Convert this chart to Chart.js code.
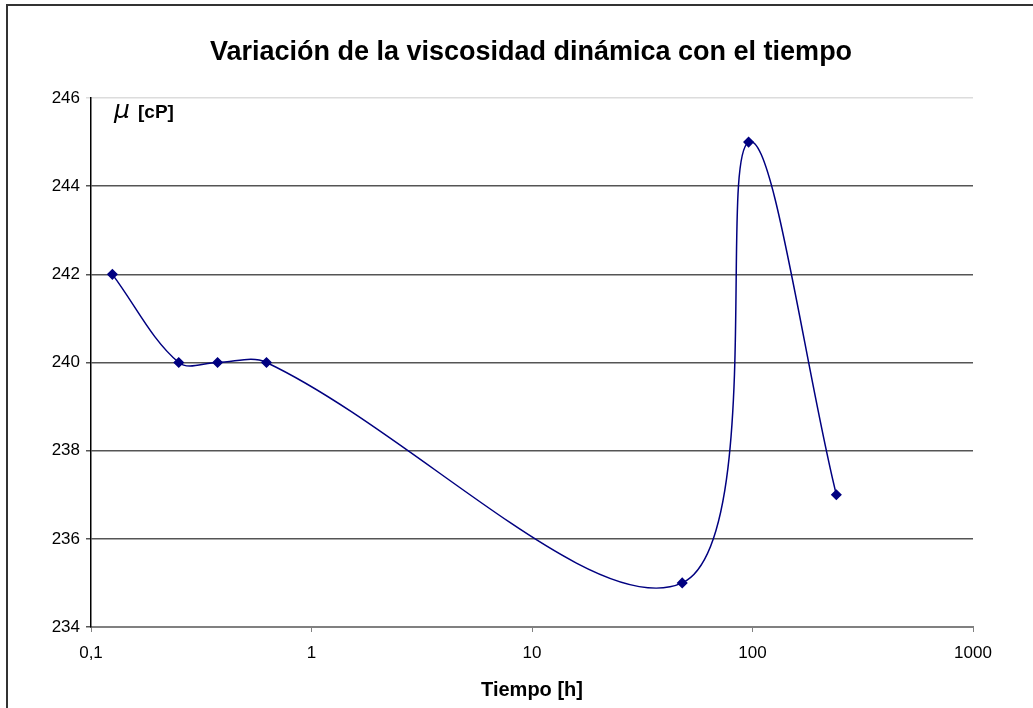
<!DOCTYPE html>
<html>
<head>
<meta charset="utf-8">
<script src="https://cdn.jsdelivr.net/npm/chart.js@4.4.0/dist/chart.umd.min.js"></script>
<style>
	html, body { margin: 0; padding: 0; background: #fff; }
	#wrap { width: 1033px; height: 708px; position: relative; }
</style>
</head>
<body>
<div id="wrap"><canvas id="chart"></canvas></div>
<script>
(function () {
	'use strict';

	// Tiempo [h] vs viscosidad [cP]
	var tiempo = [0.125, 0.25, 0.375, 0.625, 48, 96, 240];
	var viscosidad = [242, 240, 240, 240, 235, 245, 237];
	var xTicks = [0.1, 1, 10, 100, 1000];
	var yTicks = [234, 236, 238, 240, 242, 244, 246];

	var FONT = '"Liberation Sans", Arial, sans-serif';
	var NAVY = '#000080';

	var points = tiempo.map(function (t, i) { return { x: t, y: viscosidad[i] }; });

	// Frame, title and the mu label, drawn like the Excel chart.
	var decor = {
		id: 'decor',
		beforeDraw: function (chart) {
			var c = chart.ctx;
			c.save();
			c.fillStyle = '#fff';
			c.fillRect(0, 0, chart.width, chart.height);
			c.strokeStyle = '#333';
			c.lineWidth = 2;
			c.beginPath();
			c.moveTo(7, chart.height);
			c.lineTo(7, 5);
			c.lineTo(chart.width, 5);
			c.stroke();
			c.restore();
		},
		afterDraw: function (chart) {
			var c = chart.ctx;
			c.save();
			c.fillStyle = '#000';
			c.textAlign = 'center';
			c.textBaseline = 'alphabetic';
			c.font = 'bold 27px ' + FONT;
			c.fillText('Variación de la viscosidad dinámica con el tiempo', 531, 60);

			c.textAlign = 'left';
			c.font = 'italic 25px "DejaVu Sans", sans-serif';
			c.fillText('μ', 114, 118);
			c.font = 'bold 19px ' + FONT;
			c.fillText('[cP]', 138, 118);
			c.restore();
		}
	};

	new Chart(document.getElementById('chart'), {
		type: 'line',
		data: {
			datasets: [{
				data: points,
				borderColor: NAVY,
				backgroundColor: NAVY,
				borderWidth: 1.5,
				tension: 0.35,
				pointStyle: 'rectRot',
				pointRadius: 4.5,
				pointBackgroundColor: NAVY,
				pointBorderColor: NAVY,
				fill: false
			}]
		},
		options: {
			responsive: true,
			maintainAspectRatio: false,
			animation: false,
			layout: { padding: { top: 98, right: 60, bottom: 2, left: 0 } },
			plugins: {
				legend: { display: false },
				title: { display: false },
				tooltip: { enabled: false }
			},
			scales: {
				x: {
					type: 'logarithmic',
					min: 0.1,
					max: 1000,
					afterBuildTicks: function (scale) {
						scale.ticks = xTicks.map(function (v) { return { value: v }; });
					},
					afterFit: function (scale) { scale.height = 79; },
					ticks: {
						color: '#000',
						font: { family: FONT, size: 17 },
						padding: 11,
						maxRotation: 0,
						autoSkip: false,
						callback: function (v) { return String(v).replace('.', ','); }
					},
					grid: {
						drawOnChartArea: false,
						drawTicks: true,
						tickLength: 5,
						color: '#808080'
					},
					border: { color: '#808080', width: 2 },
					title: {
						display: true,
						text: 'Tiempo [h]',
						color: '#000',
						font: { family: FONT, size: 20, weight: 'bold' }
					}
				},
				y: {
					min: 234,
					max: 246,
					afterBuildTicks: function (scale) {
						scale.ticks = yTicks.map(function (v) { return { value: v }; });
					},
					afterFit: function (scale) { scale.width = 91; },
					ticks: {
						color: '#000',
						font: { family: FONT, size: 17 },
						padding: 6
					},
					grid: {
						tickLength: 5,
						lineWidth: 1.5,
						color: function (ctx) {
							return ctx.tick && ctx.tick.value === 246 ? '#dcdcdc' : '#555';
						}
					},
					border: { color: '#000', width: 1.5 }
				}
			}
		},
		plugins: [decor]
	});
})();
</script>
</body>
</html>
